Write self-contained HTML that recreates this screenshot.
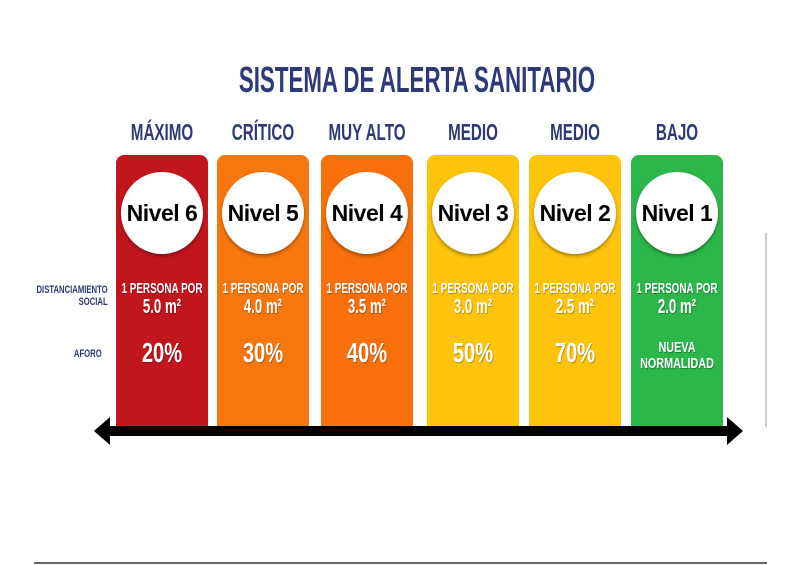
<!DOCTYPE html>
<html><head><meta charset="utf-8"><style>
body{margin:0;width:800px;height:565px;background:#fff;position:relative;overflow:hidden;font-family:"Liberation Sans",sans-serif}
.a{position:absolute}
.t{position:absolute;white-space:nowrap;font-weight:bold;transform-origin:center;}
</style></head><body>
<div class="t" style="left:0;width:834px;text-align:center;top:59px;font-size:36px;color:#2e3a78;transform:scaleX(0.62)">SISTEMA DE ALERTA SANITARIO</div>
<div class="t" style="right:692px;top:284px;font-size:11px;color:#2e3a78;text-align:right;transform:scaleX(0.7);transform-origin:right">DISTANCIAMIENTO<br>SOCIAL</div>
<div class="t" style="right:698px;top:348px;font-size:11px;color:#2e3a78;transform:scaleX(0.7);transform-origin:right">AFORO</div>
<div id="cols"></div>
<div class="a" style="left:105px;top:426px;width:628px;height:10px;background:#000"></div>
<svg class="a" style="left:0;top:0" width="800" height="565">
<polygon points="94,431 110,417 110,445" fill="#000"/>
<polygon points="743,431 727,417 727,445" fill="#000"/>
<line x1="766" y1="233" x2="766" y2="427" stroke="#bbb" stroke-width="1.5"/>
<line x1="34" y1="563" x2="767" y2="563" stroke="#333" stroke-width="1.5"/>
</svg>
<script>
const levels=["MÁXIMO","CRÍTICO","MUY ALTO","MEDIO","MEDIO","BAJO"];
const nivel=["Nivel 6","Nivel 5","Nivel 4","Nivel 3","Nivel 2","Nivel 1"];
const area=["5.0","4.0","3.5","3.0","2.5","2.0"];
const aforo=["20%","30%","40%","50%","70%","NUEVA<br>NORMALIDAD"];
const colors=["#c2161d","#f7770f","#f7700c","#fdc40b","#fdc40b","#2db64a"];
const lefts=[116,217,321,427,529,631];
const c=document.getElementById('cols');
levels.forEach((l,i)=>{
 const x=lefts[i],w=92;
 const h=document.createElement('div');h.className='t';
 
 
 h.style.cssText=`left:${x-40}px;width:${w+80}px;text-align:center;top:119px;font-size:23px;color:#2e3a78;transform:scaleX(0.66)`;
 h.textContent=l;c.appendChild(h);
 const col=document.createElement('div');col.className='a';
 
 
 col.style.cssText=`left:${x}px;top:155px;width:${w}px;height:275px;background:${colors[i]};border-radius:8px 8px 0 0`;
 c.appendChild(col);
 const ci=document.createElement('div');ci.className='a';
 
 
 ci.style.cssText=`left:${x+5}px;top:172px;width:82px;height:82px;border-radius:50%;background:#fff;box-shadow:0 2px 3px rgba(0,0,0,.35);display:flex;align-items:center;justify-content:center;font-weight:bold;font-size:23px;color:#000;white-space:nowrap;letter-spacing:-0.5px`;
 ci.textContent=nivel[i];c.appendChild(ci);
 const d=document.createElement('div');d.className='t';
 
 
 d.style.cssText=`left:${x-40}px;width:${w+80}px;text-align:center;top:280px;font-size:15px;line-height:18px;color:#fff;transform:scaleX(0.66);text-shadow:1px 1px 1px rgba(0,0,0,.3)`;
 d.innerHTML=`1 PERSONA POR<br><span style="font-size:20px">${area[i]} m²</span>`;c.appendChild(d);
 const a=document.createElement('div');a.className='t';
 
 
 const small=aforo[i].includes('<br>');
 a.style.cssText=`left:${x-40}px;width:${w+80}px;text-align:center;top:${small?340:338}px;font-size:${small?15:28}px;line-height:${small?16:30}px;color:#fff;transform:scaleX(0.72);text-shadow:1px 1px 1px rgba(0,0,0,.3)`;
 a.innerHTML=aforo[i];c.appendChild(a);
});
</script>
</body></html>
